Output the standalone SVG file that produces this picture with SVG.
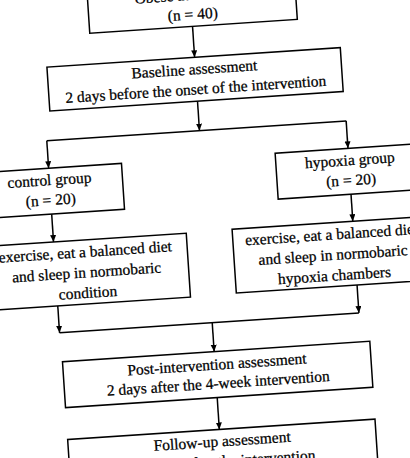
<svg xmlns="http://www.w3.org/2000/svg" width="410" height="458" viewBox="0 0 410 458">
<defs>
<marker id="ah" markerUnits="userSpaceOnUse" markerWidth="8" markerHeight="7" refX="7" refY="3" orient="auto">
<path d="M0,0 L7,3 L0,6 z" fill="#000"/>
</marker>
<style>
.box{fill:#fff;stroke:#000;stroke-width:1.5}
.t{font-family:"Liberation Serif","Times New Roman",serif;font-size:15.5px;fill:#000;stroke:#000;stroke-width:0.25;text-anchor:middle}
.c{fill:none;stroke:#000;stroke-width:1.5}
.a{fill:none;stroke:#000;stroke-width:1.5;marker-end:url(#ah)}
</style>
</defs>
<rect width="410" height="458" fill="#fff"/>
<g transform="rotate(-3.8 205 229)">
<g id="connectors">
<line class="a" x1="206" y1="26" x2="206" y2="57"/>
<line class="a" x1="206" y1="101" x2="206" y2="130.5"/>
<line class="c" x1="53" y1="130.5" x2="353" y2="130.5"/>
<line class="a" x1="53" y1="130.5" x2="53" y2="158"/>
<line class="a" x1="353" y1="130.5" x2="353" y2="158"/>
<line class="a" x1="53" y1="204" x2="53" y2="232"/>
<line class="a" x1="353" y1="204" x2="353" y2="231"/>
<line class="a" x1="53" y1="296" x2="53" y2="323"/>
<line class="a" x1="353" y1="295" x2="353" y2="323"/>
<line class="c" x1="53" y1="323" x2="353" y2="323"/>
<line class="a" x1="206" y1="323" x2="206" y2="352"/>
<line class="a" x1="206" y1="398" x2="206" y2="430"/>
</g>
<g id="obese">
<rect class="box" x="103" y="-18" width="208" height="44"/>
<text class="t" x="207" y="-0.5">Obese adolescents</text>
<text class="t" x="207" y="19">(n = 40)</text>
</g>
<g id="baseline">
<rect class="box" x="58" y="57" width="294" height="44"/>
<text class="t" x="205" y="74">Baseline assessment</text>
<text class="t" x="205" y="94">2 days before the onset of the intervention</text>
</g>
<g id="control">
<rect class="box" x="-20" y="158" width="146" height="46"/>
<text class="t" x="53" y="175">control group</text>
<text class="t" x="53" y="195">(n = 20)</text>
</g>
<g id="hypoxia">
<rect class="box" x="280" y="158" width="146" height="46"/>
<text class="t" x="354" y="175">hypoxia group</text>
<text class="t" x="354" y="195">(n = 20)</text>
</g>
<g id="control-intervention">
<rect class="box" x="-18" y="232" width="204" height="64"/>
<text class="t" x="84" y="249">exercise, eat a balanced diet</text>
<text class="t" x="84" y="269.5">and sleep in normobaric</text>
<text class="t" x="84" y="290">condition</text>
</g>
<g id="hypoxia-intervention">
<rect class="box" x="232" y="231" width="200" height="64"/>
<text class="t" x="331" y="248">exercise, eat a balanced diet</text>
<text class="t" x="331" y="268.5">and sleep in normobaric</text>
<text class="t" x="331" y="289">hypoxia chambers</text>
</g>
<g id="post">
<rect class="box" x="54" y="352" width="308" height="46"/>
<text class="t" x="208" y="370">Post-intervention assessment</text>
<text class="t" x="208" y="389">2 days after the 4-week intervention</text>
</g>
<g id="followup">
<rect class="box" x="54" y="430" width="308" height="46"/>
<text class="t" x="208" y="447">Follow-up assessment</text>
<text class="t" x="208" y="467">4 weeks after the intervention</text>
</g>
</g>
</svg>
